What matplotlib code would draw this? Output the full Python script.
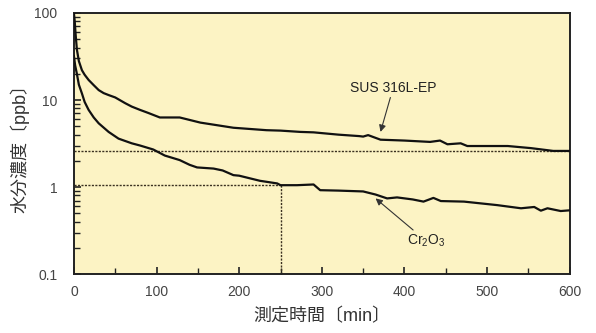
import matplotlib
matplotlib.use("Agg")
import matplotlib.pyplot as plt
from matplotlib.ticker import LogLocator, FixedLocator, NullFormatter, FixedFormatter, MultipleLocator

plt.rcParams['font.family'] = ['Liberation Sans', 'Noto Sans CJK JP', 'DejaVu Sans']

# SUS 316L-EP series
sus_t = [0, 1, 2, 3.6, 6, 9.7, 13, 17.8, 24, 30, 36, 42, 50, 62, 70, 80, 90, 104, 128, 153, 193, 233,
         250, 274, 290, 320, 345, 350, 356, 371, 400, 431, 443, 452, 468, 476, 500, 525, 553, 580, 600]
sus_v = [100, 80, 58, 38, 28, 22, 19.5, 17, 14.8, 13, 12, 11.4, 10.7, 9.2, 8.4, 7.7, 7.1, 6.3, 6.3, 5.5,
         4.8, 4.5, 4.45, 4.3, 4.25, 4.0, 3.85, 3.8, 3.95, 3.5, 3.42, 3.3, 3.42, 3.1, 3.18, 2.96, 2.96, 2.96,
         2.8, 2.6, 2.6]

# Cr2O3 series
cr_t = [0, 1.5, 3.6, 6, 9.7, 13, 17.8, 24, 30, 42, 54, 70, 80, 96, 110, 128, 140, 149, 169, 180, 193, 200,
        225, 246, 250, 270, 290, 298, 320, 350, 365, 379, 391, 410, 423, 435, 444, 472, 512, 541, 557, 565,
        573, 589, 600]
cr_v = [32, 25, 20, 15, 11.9, 9.5, 7.7, 6.3, 5.4, 4.3, 3.6, 3.18, 3.0, 2.7, 2.3, 2.04, 1.8, 1.68, 1.63,
        1.55, 1.37, 1.35, 1.18, 1.1, 1.05, 1.05, 1.07, 0.92, 0.91, 0.89, 0.82, 0.74, 0.76, 0.72, 0.68,
        0.75, 0.69, 0.68, 0.62, 0.57, 0.59, 0.535, 0.57, 0.53, 0.54]

# reference lines
ref_hi = 2.6
ref_lo = 1.05
ref_t = 250

x_ticks = [0, 100, 200, 300, 400, 500, 600]
y_ticks = [0.1, 1, 10, 100]
y_tick_labels = ['0.1', '1', '10', '100']

label_sus = 'SUS 316L-EP'
label_cr = r'Cr$_\mathregular{2}$O$_\mathregular{3}$'
xlabel = '測定時間〔min〕'
ylabel = '水分濃度〔ppb〕'

fig = plt.figure(figsize=(5.96, 3.33), dpi=100)
ax = fig.add_axes([0.124, 0.177, 0.832, 0.784])
ax.set_facecolor('#fcf3c4')

ax.set_yscale('log')
ax.set_xlim(0, 600)
ax.set_ylim(0.1, 100)

dot_kw = dict(color='#3a3020', lw=1.0, ls=(0, (1.5, 1.0)), zorder=2)
ax.plot([0, 600], [ref_hi, ref_hi], **dot_kw)
ax.plot([0, ref_t], [ref_lo, ref_lo], **dot_kw)
ax.plot([ref_t, ref_t], [0.1, ref_lo], **dot_kw)

ax.plot(sus_t, sus_v, color='#111111', lw=1.6, zorder=3)
ax.plot(cr_t, cr_v, color='#111111', lw=1.6, zorder=3)

ax.annotate(label_sus, xy=(371, 4.3), xytext=(334, 11.5), fontsize=10, color='#222222',
            ha='left', va='bottom',
            arrowprops=dict(arrowstyle='-|>', color='#333333', lw=0.8, mutation_scale=10,
                            shrinkA=0, shrinkB=0))
ax.annotate(label_cr, xy=(365, 0.74), xytext=(403, 0.24), fontsize=10, color='#222222',
            ha='left', va='center',
            arrowprops=dict(arrowstyle='-|>', color='#333333', lw=0.8, mutation_scale=10,
                            shrinkA=0, shrinkB=0))

ax.xaxis.set_major_locator(FixedLocator(x_ticks))
ax.xaxis.set_minor_locator(MultipleLocator(50))
ax.yaxis.set_major_locator(FixedLocator(y_ticks))
ax.yaxis.set_major_formatter(FixedFormatter(y_tick_labels))
ax.yaxis.set_minor_locator(LogLocator(base=10, subs=range(2, 10)))
ax.yaxis.set_minor_formatter(NullFormatter())

ax.tick_params(axis='both', which='both', direction='in', color='#222222')
ax.tick_params(axis='both', which='major', length=5, width=1.2, labelsize=10,
               labelcolor='#444444', pad=8)
ax.tick_params(axis='both', which='minor', length=4, width=1.0)
ax.tick_params(axis='y', which='major', pad=12)

for s in ax.spines.values():
    s.set_color('#222222')
    s.set_linewidth(1.4)

ax.set_xlabel(xlabel, fontsize=13, color='#333333', labelpad=6)
ax.set_ylabel(ylabel, fontsize=13, color='#333333', labelpad=3)

fig.savefig('out.png', dpi=100, facecolor='white')
